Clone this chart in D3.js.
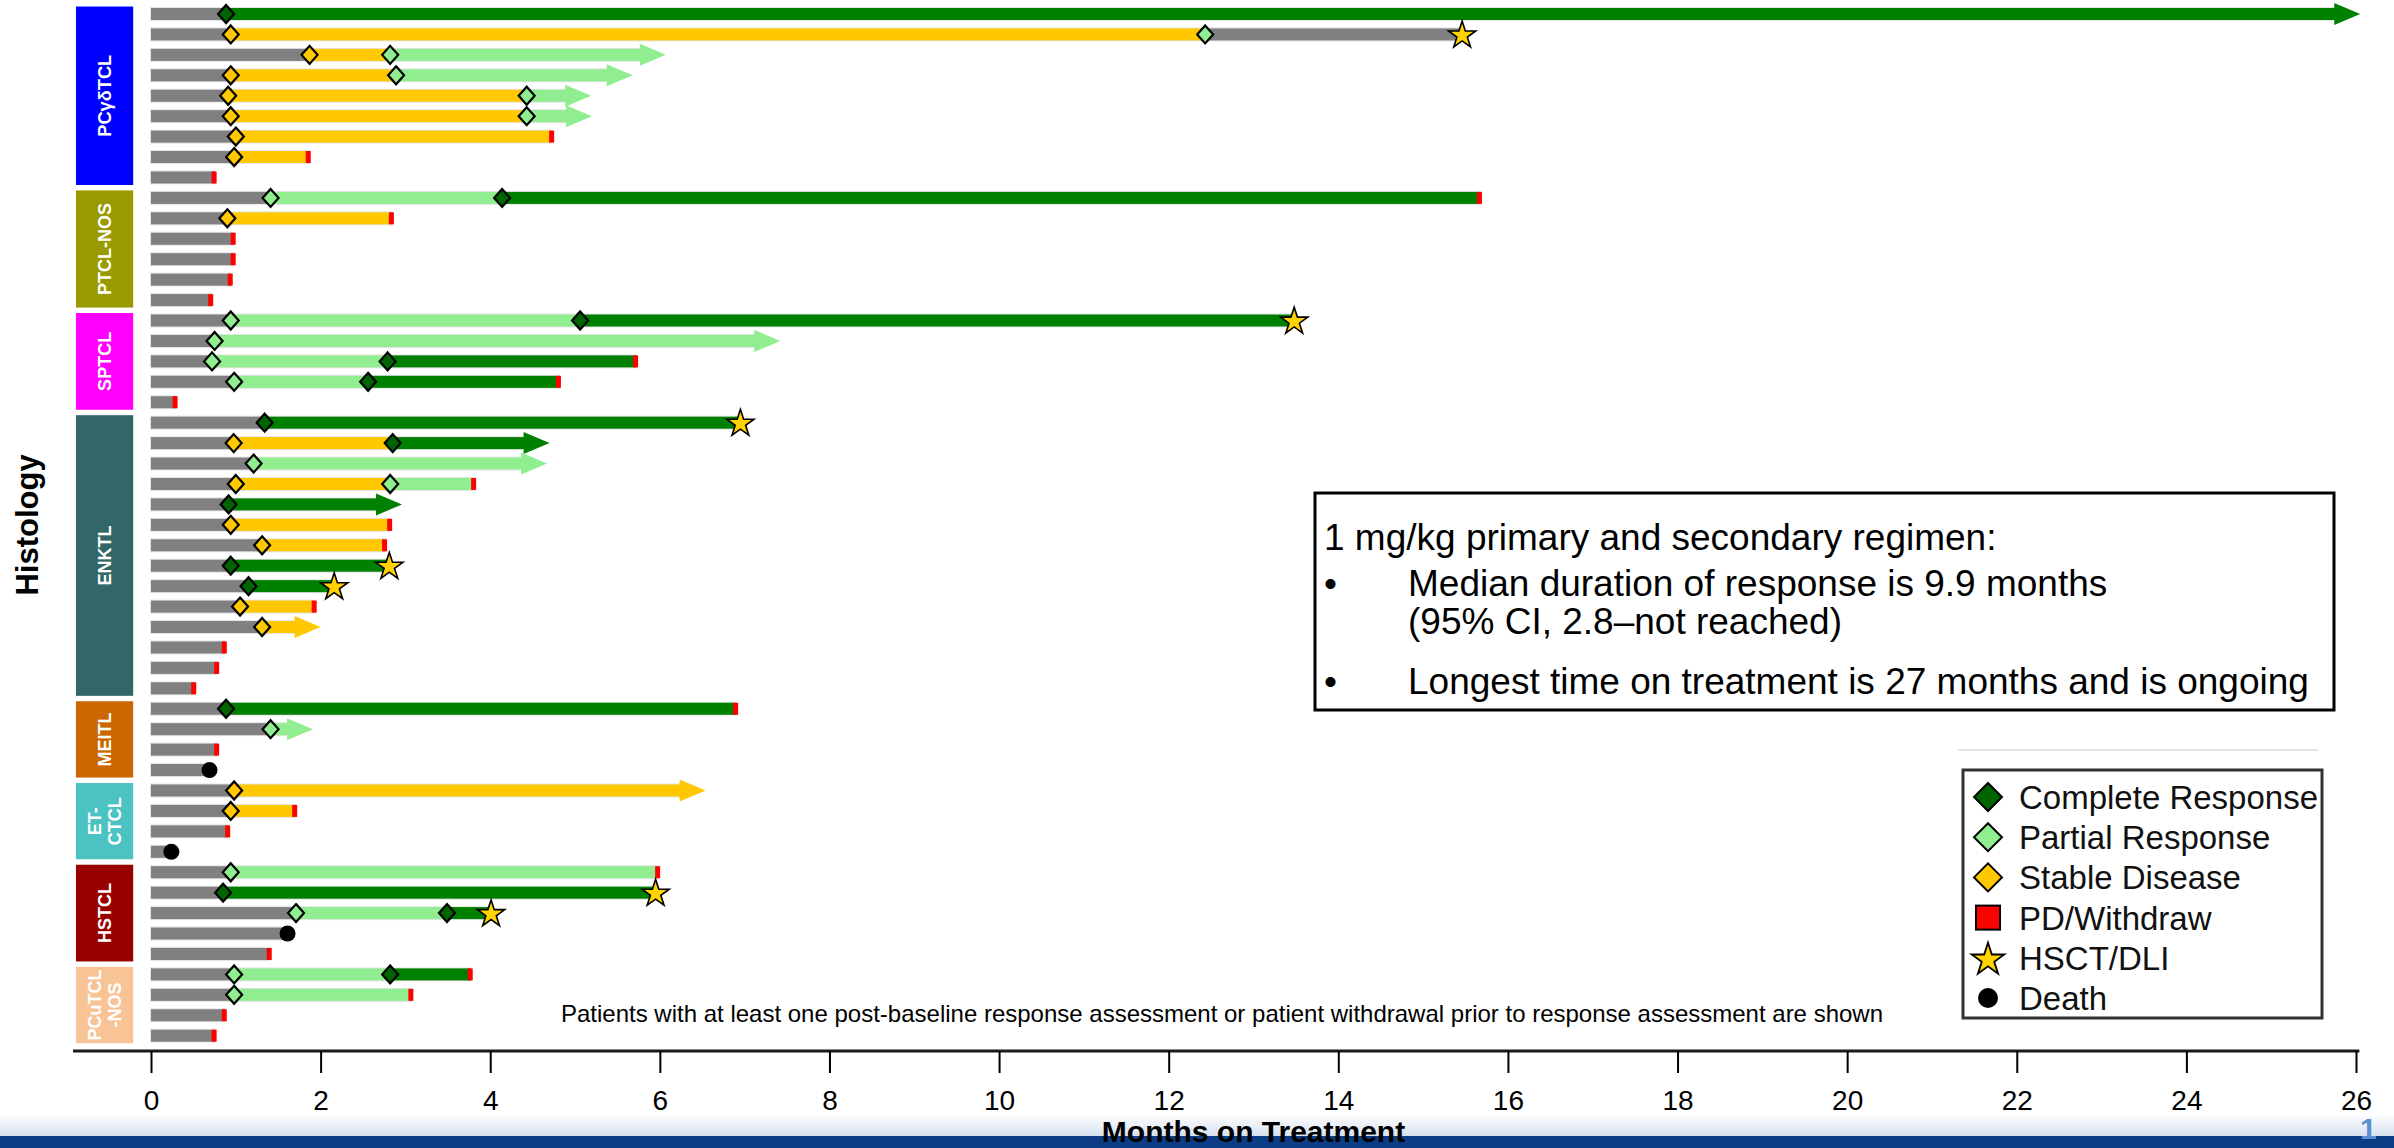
<!DOCTYPE html>
<html>
<head>
<meta charset="utf-8">
<script src="https://cdn.jsdelivr.net/npm/d3@7"></script>
<style>
body { margin: 0; background: #fff; }
svg { display: block; font-family: "Liberation Sans", Arial, sans-serif; }
</style>
</head>
<body>
<div class="chart"></div>
<script>
// histology groups, top to bottom, and how many patients in each
const histologies = ["PCγδTCL", "PTCL-NOS", "SPTCL", "ENKTL", "MEITL", "ET-CTCL", "HSTCL", "PCuTCL-NOS"];
const histologyLines = [["PCγδTCL"], ["PTCL-NOS"], ["SPTCL"], ["ENKTL"], ["MEITL"], ["ET-", "CTCL"], ["HSTCL"], ["PCuTCL", "-NOS"]];
const groupCounts = [9, 6, 5, 14, 4, 4, 5, 4];

// months on treatment per patient (row order)
const treatmentEnd = [
  26.05, 15.46, 6.07, 5.68, 5.19, 5.2, 4.73, 1.86, 0.75,
  15.67, 2.84, 0.975, 0.975, 0.94, 0.71,
  13.48, 7.42, 5.72, 4.81, 0.29,
  6.95, 4.70, 4.67, 3.81, 2.96, 2.82, 2.76, 2.81, 2.16, 1.93, 2.0, 0.87, 0.78, 0.51,
  6.90, 1.91, 0.78, 0.69,
  6.54, 1.70, 0.91, 0.24,
  5.98, 5.95, 4.01, 1.61, 1.40,
  3.77, 3.07, 0.87, 0.75
];

// how the bar ends
const treatmentOutcome = [
  "Ongoing", "HSCT", "Ongoing", "Ongoing", "Ongoing", "Ongoing", "PD", "PD", "PD",
  "PD", "PD", "PD", "PD", "PD", "PD",
  "HSCT", "Ongoing", "PD", "PD", "PD",
  "HSCT", "Ongoing", "Ongoing", "PD", "Ongoing", "PD", "PD", "HSCT", "HSCT", "PD", "Ongoing", "PD", "PD", "PD",
  "PD", "Ongoing", "PD", "Death",
  "Ongoing", "PD", "PD", "Death",
  "PD", "HSCT", "HSCT", "Death", "PD",
  "PD", "PD", "PD", "PD"
];

// response assessments: [month, response, ("off" = bar turns grey after)]
const responses = [
  [[0.885, "CR"]],
  [[0.94, "SD"], [12.43, "PR", "off"]],
  [[1.87, "SD"], [2.82, "PR"]],
  [[0.94, "SD"], [2.89, "PR"]],
  [[0.91, "SD"], [4.43, "PR"]],
  [[0.94, "SD"], [4.43, "PR"]],
  [[1.0, "SD"]],
  [[0.98, "SD"]],
  [],
  [[1.41, "PR"], [4.14, "CR"]],
  [[0.90, "SD"]],
  [], [], [], [],
  [[0.94, "PR"], [5.06, "CR"]],
  [[0.75, "PR"]],
  [[0.72, "PR"], [2.79, "CR"]],
  [[0.98, "PR"], [2.56, "CR"]],
  [],
  [[1.34, "CR"]],
  [[0.975, "SD"], [2.85, "CR"]],
  [[1.21, "PR"]],
  [[1.0, "SD"], [2.82, "PR"]],
  [[0.915, "CR"]],
  [[0.94, "SD"]],
  [[1.31, "SD"]],
  [[0.94, "CR"]],
  [[1.15, "CR"]],
  [[1.05, "SD"]],
  [[1.31, "SD"]],
  [], [], [],
  [[0.885, "CR"]],
  [[1.41, "PR"]],
  [], [],
  [[0.98, "SD"]],
  [[0.94, "SD"]],
  [], [],
  [[0.94, "PR"]],
  [[0.85, "CR"]],
  [[1.71, "PR"], [3.49, "CR"]],
  [], [],
  [[0.98, "PR"], [2.82, "CR"]],
  [[0.98, "PR"]],
  [], []
];

const xTicks = d3.range(0, 27, 2);
const legendLabels = ["Complete Response", "Partial Response", "Stable Disease", "PD/Withdraw", "HSCT/DLI", "Death"];
const legendKinds = ["CR", "PR", "SD", "PD", "HSCT", "Death"];

const noteLines = [
  ["", "1 mg/kg primary and secondary regimen:"],
  ["•", "Median duration of response is 9.9 months"],
  ["", "(95% CI, 2.8–not reached)"],
  ["•", "Longest time on treatment is 27 months and is ongoing"]
];
const footnote = "Patients with at least one post-baseline response assessment or patient withdrawal prior to response assessment are shown";

// styling
const groupColors = ["#0000FF", "#999900", "#FF00FF", "#336666", "#CC6600", "#4CC3C3", "#990000", "#F8C496"];
const barColor = { none: "#808080", CR: "#008000", PR: "#90EE90", SD: "#FFC800" };
const markColor = { CR: "#006400", PR: "#90EE90", SD: "#FFC800" };

const width = 2394, height = 1148;
const barH = 12, headLen = 26, headHalf = 11;

const svg = d3.select(".chart").append("svg")
  .attr("width", width)
  .attr("height", height);

const x = d3.scaleLinear().domain([0, 26]).range([151, 2356]);
const y = d3.scalePoint().domain(d3.range(treatmentEnd.length)).range([14, 1035.7]);

// bottom slide band
const grad = svg.append("defs").append("linearGradient")
  .attr("id", "band").attr("x1", 0).attr("y1", 0).attr("x2", 0).attr("y2", 1);
grad.append("stop").attr("offset", "0%").attr("stop-color", "#ffffff");
grad.append("stop").attr("offset", "100%").attr("stop-color", "#d6e2f0");
svg.append("rect").attr("x", 0).attr("y", 1114).attr("width", width).attr("height", 22).attr("fill", "url(#band)");
svg.append("rect").attr("x", 0).attr("y", 1136).attr("width", width).attr("height", 12).attr("fill", "#0C3C84");

// diamond path
const diamond = (w, h) => `M0,${-h}L${w},0L0,${h}L${-w},0Z`;
const star = s => d3.symbol(d3.symbolStar, s)();

// histology boxes
let start = 0;
const groups = groupCounts.map((n, g) => {
  const r = { g, first: start, last: start + n - 1 };
  start += n;
  return r;
});

const boxG = svg.selectAll(".hist")
  .data(groups)
  .enter()
  .append("g")
  .attr("class", "hist");
boxG.append("rect")
  .attr("x", x(-0.885))
  .attr("width", x(-0.21) - x(-0.885))
  .attr("y", d => y(d.first) - 7.5)
  .attr("height", d => y(d.last) - y(d.first) + 15)
  .attr("fill", d => groupColors[d.g]);
boxG.each(function(d) {
  const cx = (x(-0.885) + x(-0.21)) / 2;
  const cy = (y(d.first) + y(d.last)) / 2;
  const lines = histologyLines[d.g];
  lines.forEach((l, k) => {
    const t = d3.select(this).append("text")
      .attr("transform", `translate(${cx + (k - (lines.length - 1) / 2) * 20 + 6.5},${cy}) rotate(-90)`)
      .attr("text-anchor", "middle")
      .attr("fill", "#fff")
      .attr("font-weight", "bold")
      .attr("font-size", 18)
      .text(l);
    // greek glyphs come out narrow; stretch to the reference length
    if (/[γδ]/.test(l)) t.attr("textLength", 82).attr("lengthAdjust", "spacingAndGlyphs");
  });
});

// patient bars
const patients = treatmentEnd.map((end, i) => ({ i, end, outcome: treatmentOutcome[i], resp: responses[i] }));

svg.selectAll(".pt")
  .data(patients)
  .enter()
  .append("g")
  .attr("class", "pt")
  .attr("transform", d => `translate(0,${y(d.i)})`)
  .each(function(d) {
    const g = d3.select(this);
    const stops = [{ t: 0, color: barColor.none }];
    d.resp.forEach(r => stops.push({ t: r[0], color: r[2] === "off" ? barColor.none : barColor[r[1]] }));
    const xEnd = x(d.end);
    const bodyEnd = d.outcome === "Ongoing" ? xEnd - headLen + 1 : xEnd;

    g.append("rect")
      .attr("x", x(0) - 1).attr("y", -barH / 2 - 1)
      .attr("width", bodyEnd - x(0) + 2).attr("height", barH + 2)
      .attr("fill", "#e4e4e4");
    stops.forEach((s, k) => {
      const x0 = x(s.t);
      const x1 = k < stops.length - 1 ? x(stops[k + 1].t) : bodyEnd;
      g.append("rect")
        .attr("x", x0).attr("y", -barH / 2)
        .attr("width", Math.max(0, x1 - x0)).attr("height", barH)
        .attr("fill", s.color);
    });
    const lastColor = stops[stops.length - 1].color;
    if (d.outcome === "Ongoing") {
      g.append("path")
        .attr("d", `M${xEnd - headLen},${-headHalf}L${xEnd},0L${xEnd - headLen},${headHalf}Z`)
        .attr("fill", lastColor);
    }
    if (d.outcome === "PD") {
      g.append("rect")
        .attr("x", xEnd - 3).attr("y", -barH / 2)
        .attr("width", 5).attr("height", barH)
        .attr("fill", "#FF0000");
    }
    d.resp.forEach(r => {
      g.append("path")
        .attr("transform", `translate(${x(r[0])},0)`)
        .attr("d", diamond(8, 9))
        .attr("fill", markColor[r[1]])
        .attr("stroke", "#000")
        .attr("stroke-width", 2.2);
    });
    if (d.outcome === "HSCT") {
      g.append("path")
        .attr("transform", `translate(${xEnd},1)`)
        .attr("d", star(230))
        .attr("fill", "#FFD200")
        .attr("stroke", "#000")
        .attr("stroke-width", 1.6);
    }
    if (d.outcome === "Death") {
      g.append("circle")
        .attr("cx", xEnd).attr("r", 8)
        .attr("fill", "#000");
    }
  });

// x axis
const axisY = 1051;
svg.append("line")
  .attr("x1", x(-0.92)).attr("x2", x(26.04))
  .attr("y1", axisY).attr("y2", axisY)
  .attr("stroke", "#1a1a1a").attr("stroke-width", 3);
const xAxis = d3.axisBottom(x).tickValues(xTicks).tickSize(22).tickPadding(17);
const axG = svg.append("g")
  .attr("transform", `translate(0,${axisY})`)
  .call(xAxis);
axG.select(".domain").remove();
axG.selectAll(".tick line").attr("stroke", "#000").attr("stroke-width", 2);
axG.selectAll(".tick text")
  .attr("font-size", 28)
  .attr("font-family", "'Liberation Sans', Arial, sans-serif")
  .attr("fill", "#000");

svg.append("text")
  .attr("x", (x(0) + x(26)) / 2).attr("y", 1142)
  .attr("text-anchor", "middle")
  .attr("font-weight", "bold")
  .attr("font-size", 30)
  .text("Months on Treatment");

svg.append("text")
  .attr("transform", "translate(38,525) rotate(-90)")
  .attr("text-anchor", "middle")
  .attr("font-weight", "bold")
  .attr("font-size", 31)
  .text("Histology");

// footnote
svg.append("text")
  .attr("x", 1222).attr("y", 1022)
  .attr("text-anchor", "middle")
  .attr("font-size", 24)
  .text(footnote);

// note box
svg.append("rect")
  .attr("x", 1315).attr("y", 493)
  .attr("width", 1019).attr("height", 217)
  .attr("fill", "#fff").attr("stroke", "#000").attr("stroke-width", 3);
const noteY = [550, 596, 634, 694];
noteLines.forEach((l, k) => {
  if (l[0]) {
    svg.append("text").attr("x", 1324).attr("y", noteY[k])
      .attr("font-size", 37).text(l[0]);
  }
  svg.append("text").attr("x", k === 0 ? 1324 : 1408).attr("y", noteY[k])
    .attr("font-size", 37).text(l[1]);
});

// legend
svg.append("line")
  .attr("x1", 1958).attr("x2", 2318).attr("y1", 750).attr("y2", 750)
  .attr("stroke", "#dddddd").attr("stroke-width", 1.5);
svg.append("rect")
  .attr("x", 1963).attr("y", 770)
  .attr("width", 359).attr("height", 248)
  .attr("fill", "#fff").attr("stroke", "#333").attr("stroke-width", 3);
const legY = d3.scalePoint().domain(legendKinds).range([797, 998]);
const legG = svg.selectAll(".leg")
  .data(legendKinds)
  .enter()
  .append("g")
  .attr("class", "leg")
  .attr("transform", d => `translate(1988,${legY(d)})`);
legG.each(function(d) {
  const g = d3.select(this);
  if (markColor[d]) {
    g.append("path").attr("d", diamond(14, 14))
      .attr("fill", markColor[d]).attr("stroke", "#000").attr("stroke-width", 2);
  } else if (d === "PD") {
    g.append("rect").attr("x", -12).attr("y", -12).attr("width", 24).attr("height", 24)
      .attr("fill", "#FF0000").attr("stroke", "#000").attr("stroke-width", 2);
  } else if (d === "HSCT") {
    g.append("path").attr("transform", "translate(0,2)").attr("d", star(330))
      .attr("fill", "#FFD200").attr("stroke", "#000").attr("stroke-width", 1.8);
  } else {
    g.append("circle").attr("r", 10).attr("fill", "#000");
  }
});
legG.append("text")
  .attr("x", 31).attr("y", 12)
  .attr("font-size", 33)
  .attr("fill", "#111")
  .text((d, i) => legendLabels[i]);

// slide number
svg.append("text")
  .attr("x", 2360).attr("y", 1139)
  .attr("font-size", 30)
  .attr("font-weight", "bold")
  .attr("fill", "#5B8FD0")
  .text("1");
</script>
</body>
</html>
